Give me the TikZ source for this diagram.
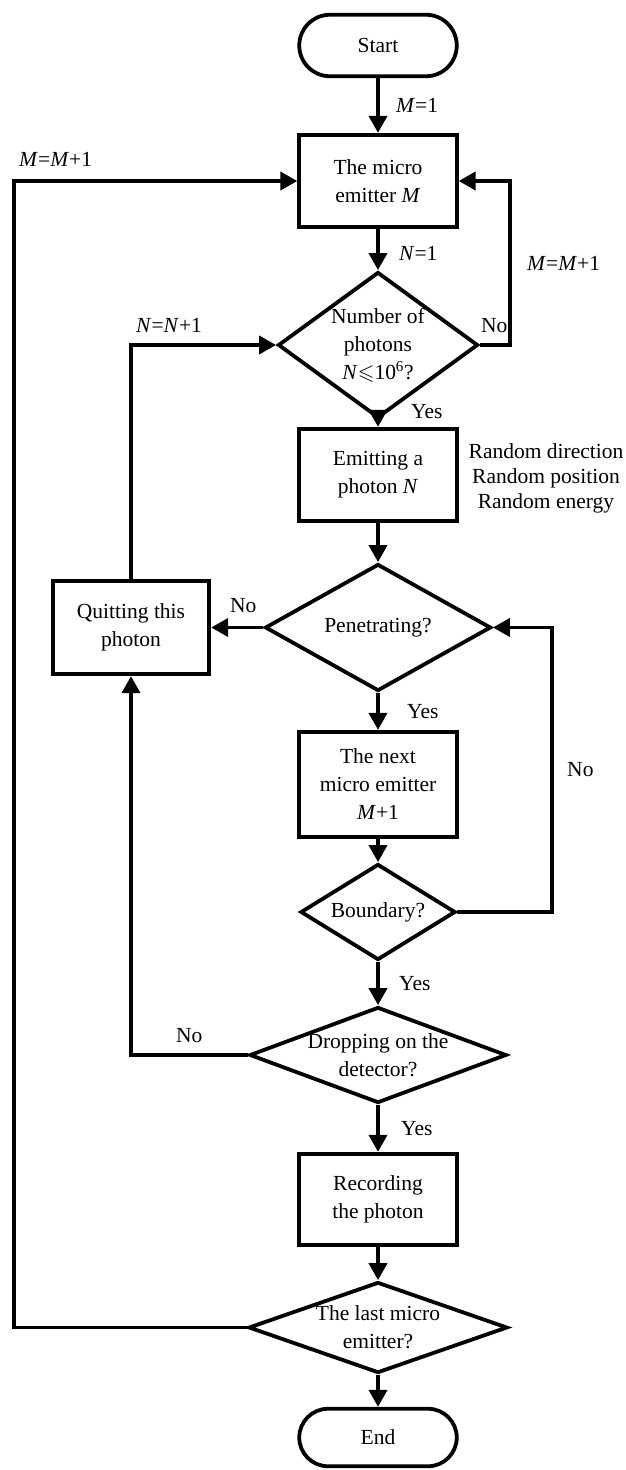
\documentclass[tikz,border=0pt]{standalone}
\usepackage{fontspec}
\usepackage{amssymb}
\setmainfont{Liberation Serif}
\usetikzlibrary{shapes.geometric,shapes.misc,arrows.meta}
\newcommand{\vM}{\textit{M}}
\newcommand{\vN}{\textit{N}}
\tikzset{
  proc/.style={draw, rectangle, line width=3.8pt, inner sep=0pt, minimum width=157.5pt, align=center},
  term/.style={draw, rounded rectangle, line width=3.8pt, inner sep=0pt, minimum width=157.5pt},
  dec/.style={draw, diamond, line width=3.8pt, inner sep=0pt, label={[align=center]center:#1}},
  arr/.style={line width=3.8pt, -{Triangle[length=17pt,width=18pt]}},
}
\begin{document}
\begin{tikzpicture}[x=1pt,y=-1pt,font=\fontsize{21.5}{28}\selectfont]
\useasboundingbox (0,0) rectangle (625,1470);
% main column
\node[term, minimum height=61.5pt] (start) at (378,45.5) {Start};
\node[proc, minimum height=92.5pt] (emit) at (378,181) {The micro\\emitter \vM};
\node[dec={Number of\\photons\\\vN$\leqslant$10\textsuperscript{6}?}, minimum width=200pt, minimum height=146pt] (count) at (378,345) {};
\node[proc, minimum height=92.5pt] (photon) at (378,475) {Emitting a\\photon \vN};
\node[dec={Penetrating?}, minimum width=226pt, minimum height=127pt] (pen) at (378,627.5) {};
\node[proc, minimum height=105.5pt] (next) at (378,784.5) {The next\\micro emitter\\\vM+1};
\node[dec={Boundary?}, minimum width=155pt, minimum height=96pt] (bnd) at (378,912) {};
\node[dec={Dropping on the\\detector?}, minimum width=257pt, minimum height=96pt] (drop) at (378,1055) {};
\node[proc, minimum height=91.5pt] (rec) at (378,1199.5) {Recording\\the photon};
\node[dec={The last micro\\emitter?}, minimum width=259pt, minimum height=91pt] (last) at (378,1327.5) {};
\node[term, minimum height=57.5pt] (end) at (378,1437.5) {End};
% side column
\node[proc, minimum width=156.5pt, minimum height=93.5pt] (quit) at (131,627.5) {Quitting this\\photon};
\node[align=center, font=\fontsize{21.5}{25}\selectfont] (rnd) at (546,478) {Random direction\\Random position\\Random energy};
% corner points of the loops
\coordinate (r1) at (510,181);
\coordinate (r2) at (552,627.5);
\coordinate (l1) at (14,181);

\draw[arr] (start) -- node[right=13pt]{\vM=1} (emit);
\draw[arr] (emit) -- node[pos=0.6, right=16pt]{\vN=1} (count);
\draw[arr] (count.south) -- node[pos=0, right=28pt, yshift=8pt]{Yes} (photon.north);
\draw[arr] (count.east) node[above right, xshift=-4pt, yshift=7pt]{No} -| node[pos=0.75, right=12pt]{\vM=\vM+1} (r1) -- (emit.east);
\draw[arr] (quit.north) |- node[pos=0.5, above right, yshift=7pt]{\vN=\vN+1} (count.west);
\draw[arr] (photon) -- (pen);
\draw[arr] (pen.west) -- node[pos=0.38, above, yshift=10pt]{No} (quit.east);
\draw[arr] (pen.south) -- node[right=24pt]{Yes} (next.north);
\draw[arr] (next) -- (bnd);
\draw[arr] (bnd.east) -| node[pos=0.75, right=10pt]{No} (r2) -- (pen.east);
\draw[arr] (bnd.south) -- node[right=16pt]{Yes} (drop.north);
\draw[arr] (drop.west) -| node[pos=0.25, above, yshift=7pt]{No} (quit.south);
\draw[arr] (drop.south) -- node[right=18pt]{Yes} (rec.north);
\draw[arr] (rec) -- (last);
\draw[arr] (last.west) -| node[pos=1, above right, yshift=9pt]{\vM=\vM+1} (l1) -- (emit.west);
\draw[arr] (last) -- (end);
\end{tikzpicture}
\end{document}
